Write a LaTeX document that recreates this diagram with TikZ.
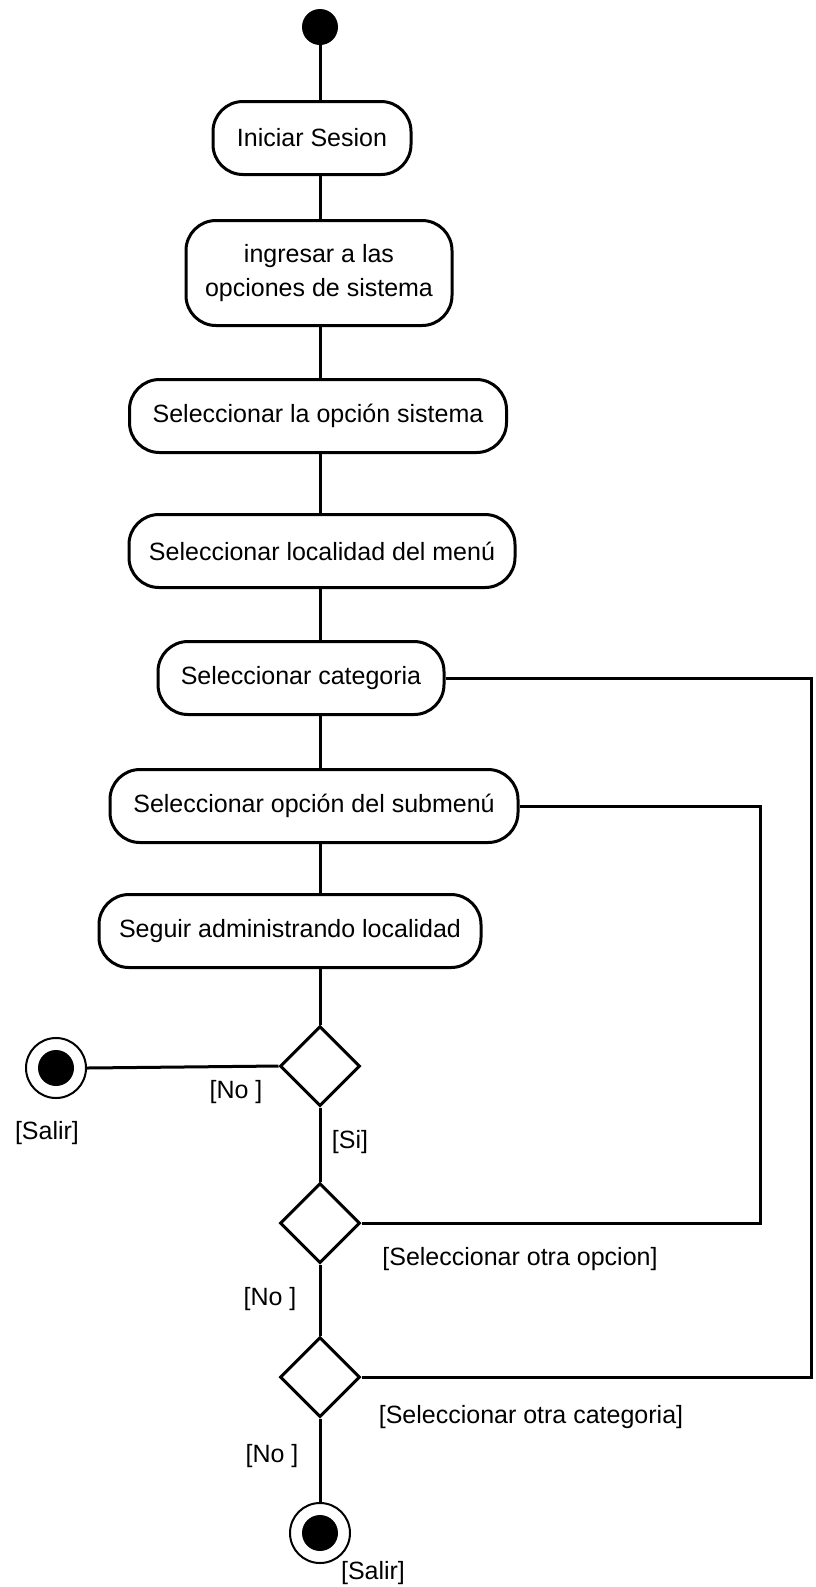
\documentclass[tikz,border=0pt]{standalone}
\usepackage{fontspec}
\setmainfont{Liberation Sans}
\usetikzlibrary{shapes.geometric}
\begin{document}
\begin{tikzpicture}[x=0.5pt,y=-0.5pt,
  act/.style={draw,line width=1.5pt,rounded corners=15pt,minimum height=36.5pt,
    inner sep=0pt,align=center,font=\fontsize{12.5}{17}\selectfont},
  dec/.style={draw,diamond,shape aspect=1,line width=1.5pt,minimum width=40pt,
    minimum height=40pt,inner sep=0pt},
  fin/.style={draw,circle,line width=1pt,minimum size=30pt,inner sep=0pt,
    path picture={\fill (path picture bounding box.center) circle (9pt);}},
  guard/.style={font=\fontsize{12.5}{15}\selectfont},
  flow/.style={line width=1.5pt}]
  \useasboundingbox (0,0) rectangle (815,1587);
  \coordinate (spine) at (320,0);
  \node[circle,fill,minimum size=18pt,inner sep=0pt] (inicio) at (320,27) {};
  \node[act,minimum width=99pt] (iniciar) at (312,138) {Iniciar Sesion};
  \node[act,minimum width=133pt,minimum height=52.5pt] (ingresar) at (319,273) {ingresar a las\\opciones de sistema};
  \node[act,minimum width=188.5pt] (sistema) at (318,416) {Seleccionar la opción sistema};
  \node[act,minimum width=193pt] (localidad) at (322,551) {Seleccionar localidad del menú};
  \node[act,minimum width=143pt] (categoria) at (301,678) {Seleccionar categoria};
  \node[act,minimum width=204pt] (submenu) at (314,806) {Seleccionar opción del submenú};
  \node[act,minimum width=191pt] (seguir) at (290,931) {Seguir administrando localidad};
  \node[dec] (d1) at (320,1066) {};
  \node[dec] (d2) at (320,1223) {};
  \node[dec] (d3) at (320,1377) {};
  \node[fin] (fin1) at (56,1068) {};
  \node[fin] (fin2) at (320,1533) {};
  \coordinate (rA) at (760,806);
  \coordinate (rB) at (811,678);
  \draw[flow] (inicio) -- (inicio |- iniciar.north);
  \foreach \a/\b in {iniciar/ingresar,ingresar/sistema,sistema/localidad,localidad/categoria,
    categoria/submenu,submenu/seguir,seguir/d1}
    \draw[flow] (\a.south -| spine) -- (\b.north -| spine);
  \draw[flow] (d1.west) -- (fin1.east);
  \draw[flow] (d1.south) -- (d2.north);
  \draw[flow] (d2.south) -- (d3.north);
  \draw[flow] (d3.south) -- (fin2.north);
  \draw[flow] (submenu.east) -- (rA) |- (d2.east);
  \draw[flow] (categoria.east) -- (rB) |- (d3.east);
  \node[guard] (g1) at (236,1092) {[No ]};
  \node[guard] (s1) at (47,1133) {[Salir]};
  \node[guard] (g2) at (350,1142) {[Si]};
  \node[guard] (g3) at (520,1259) {[Seleccionar otra opcion]};
  \node[guard] (g4) at (270,1299) {[No ]};
  \node[guard] (g5) at (531,1417) {[Seleccionar otra categoria]};
  \node[guard] (g6) at (272,1456) {[No ]};
  \node[guard] (s2) at (373,1573) {[Salir]};
\end{tikzpicture}
\end{document}
